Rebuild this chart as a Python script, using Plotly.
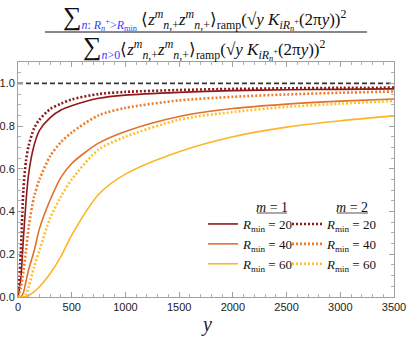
import plotly.graph_objects as go

# ---- data ----
y_grid = [0, 25, 50, 75, 100, 150, 200, 300, 400, 500, 750, 1000, 1500, 2000, 2500, 3000, 3500]

m1_R20 = [0, 0.08, 0.27, 0.45, 0.58, 0.71, 0.78, 0.84, 0.875, 0.895, 0.93, 0.945, 0.958, 0.966, 0.970, 0.972, 0.974]
m1_R40 = [0, 0.0, 0.02, 0.075, 0.13, 0.215, 0.32, 0.455, 0.56, 0.625, 0.72, 0.775, 0.845, 0.882, 0.903, 0.917, 0.927]
m1_R60 = [0, 0, 0, 0.002, 0.008, 0.025, 0.048, 0.11, 0.19, 0.29, 0.48, 0.575, 0.68, 0.75, 0.795, 0.825, 0.848]

m2_R20 = [0, 0.2, 0.5, 0.64, 0.71, 0.79, 0.83, 0.88, 0.905, 0.925, 0.95, 0.96, 0.969, 0.974, 0.977, 0.979, 0.98]
m2_R40 = [0, 0.04, 0.12, 0.22, 0.33, 0.47, 0.55, 0.66, 0.725, 0.77, 0.85, 0.885, 0.92, 0.937, 0.948, 0.956, 0.962]
m2_R60 = [0, 0, 0.0, 0.012, 0.05, 0.14, 0.22, 0.37, 0.47, 0.55, 0.69, 0.75, 0.83, 0.866, 0.89, 0.905, 0.918]

ref_x = [0, 3500]
ref_y = [1.0, 1.0]

r_min_labels = ["20", "40", "60"]
x_ticks = [0, 500, 1000, 1500, 2000, 2500, 3000, 3500]
y_ticks = [0.0, 0.2, 0.4, 0.6, 0.8, 1.0]

colors_m1 = ["#8e1b1b", "#e2702c", "#fdb528"]
colors_m2 = ["#8e1b1b", "#ee7d2a", "#fcc130"]

SERIF = "Liberation Serif"
SANS = "Liberation Sans"

fig = go.Figure()

fig.add_trace(go.Scatter(x=ref_x, y=ref_y, mode="lines",
                         line=dict(color="#333333", width=1.8, dash="5px,3px"),
                         showlegend=False, hoverinfo="skip"))

for vals, col, lab in zip([m1_R20, m1_R40, m1_R60], colors_m1, r_min_labels):
    fig.add_trace(go.Scatter(x=y_grid, y=vals, mode="lines",
                             line=dict(color=col, width=1.6, shape="spline", smoothing=0.8),
                             name="<i>R</i><sub>min</sub> = " + lab, legend="legend"))

for vals, col, lab in zip([m2_R20, m2_R40, m2_R60], colors_m2, r_min_labels):
    fig.add_trace(go.Scatter(x=y_grid, y=vals, mode="lines",
                             line=dict(color=col, width=2.6, dash="2px,2px", shape="spline", smoothing=0.8),
                             name="<i>R</i><sub>min</sub> = " + lab, legend="legend2"))

axis_common = dict(showline=True, mirror="allticks", linecolor="#a0a0a0", linewidth=1,
                   ticks="inside", ticklen=5, tickcolor="#a0a0a0", showgrid=False, zeroline=False,
                   automargin=False,
                   tickfont=dict(family=SANS, size=11, color="#222222"))

fig.update_xaxes(range=[0, 3500], tickvals=x_ticks,
                 minor=dict(ticks="inside", ticklen=3, dtick=100, tickcolor="#b0b0b0"),
                 **axis_common)
fig.update_yaxes(range=[0, 1.1], tickvals=y_ticks, tickformat=".1f",
                 minor=dict(ticks="inside", ticklen=3, dtick=0.05, tickcolor="#b0b0b0"),
                 **axis_common)

BLUE = "#3a3aff"
SUM = "<span style='font-size:26px'>∑</span>"
body = ("⟨<i>z</i><sup><i>m</i></sup><sub><i>n</i>,+</sub><i>z</i><sup><i>m</i></sup><sub><i>n</i>,+</sub>⟩<sub>ramp</sub>"
        "(√<i>y</i> <i>K</i><sub><i>iR</i><sub><i>n</i></sub><sup>+</sup></sub>(2π<i>y</i>))<sup>2</sup>")
num = (SUM + "<sub><span style='color:%s'><i>n</i>: <i>R</i><sub><i>n</i></sub><sup>+</sup>&gt;<i>R</i><sub>min</sub></span></sub> " % BLUE) + body
den = (SUM + "<sub><span style='color:%s'><i>n</i>&gt;0</span></sub>" % BLUE) + body

W, H = 407, 342
PL, PT, PR, PB = 18, 62, 394, 297          # plot frame in page pixels
ml, mt = PL, PT
mr, mb = W - PR, H - PB
pw, ph = W - ml - mr, H - mt - mb

def px_to_paper_x(px):
    return (px - ml) / pw

def py_to_paper_y(py):
    return (H - mb - py) / ph

annotations = [
    dict(text=num, x=px_to_paper_x(205), y=py_to_paper_y(17), xref="paper", yref="paper",
         showarrow=False, font=dict(family=SERIF, size=17, color="#111111"), xanchor="center", yanchor="middle"),
    dict(text=den, x=px_to_paper_x(204), y=py_to_paper_y(48), xref="paper", yref="paper",
         showarrow=False, font=dict(family=SERIF, size=17, color="#111111"), xanchor="center", yanchor="middle"),
    dict(text="<i>m</i> = 1", x=px_to_paper_x(272), y=py_to_paper_y(207), xref="paper", yref="paper",
         showarrow=False, font=dict(family=SERIF, size=14, color="#111111"), xanchor="center", yanchor="middle"),
    dict(text="<i>m</i> = 2", x=px_to_paper_x(352), y=py_to_paper_y(207), xref="paper", yref="paper",
         showarrow=False, font=dict(family=SERIF, size=14, color="#111111"), xanchor="center", yanchor="middle"),
    dict(text="<i>y</i>", x=px_to_paper_x(206), y=py_to_paper_y(324), xref="paper", yref="paper",
         showarrow=False, font=dict(family=SERIF, size=20, color="#222222"), xanchor="center", yanchor="middle"),
]

shapes = [
    dict(type="line", xref="paper", yref="paper", x0=px_to_paper_x(45), x1=px_to_paper_x(367),
         y0=py_to_paper_y(32), y1=py_to_paper_y(32), line=dict(color="#111111", width=1)),
    dict(type="line", xref="paper", yref="paper", x0=px_to_paper_x(257), x1=px_to_paper_x(287),
         y0=py_to_paper_y(213), y1=py_to_paper_y(213), line=dict(color="#555555", width=1)),
    dict(type="line", xref="paper", yref="paper", x0=px_to_paper_x(337), x1=px_to_paper_x(368),
         y0=py_to_paper_y(213), y1=py_to_paper_y(213), line=dict(color="#555555", width=1)),
]

legend_common = dict(bgcolor="rgba(0,0,0,0)", font=dict(family=SERIF, size=13, color="#111111"),
                     itemwidth=30, tracegroupgap=0, xanchor="left", yanchor="top")

fig.update_layout(
    width=W, height=H, margin=dict(l=ml, r=mr, t=mt, b=mb),
    paper_bgcolor="white", plot_bgcolor="white",
    annotations=annotations, shapes=shapes,
    legend=dict(x=px_to_paper_x(203), y=py_to_paper_y(209), **legend_common),
    legend2=dict(x=px_to_paper_x(287), y=py_to_paper_y(209), **legend_common),
)

# remove the browser's default 8px body margin so the figure fills the window exactly
fig.write_html("out.html", config={"displayModeBar": False},
               post_script="document.body.style.margin='0px';")
